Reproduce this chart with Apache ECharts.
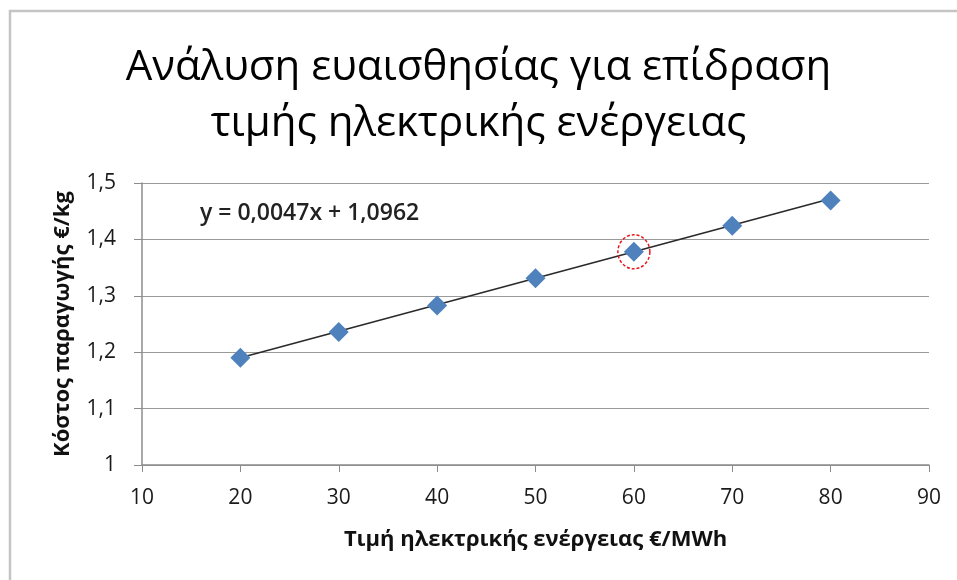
<!DOCTYPE html>
<html>
<head>
<meta charset="utf-8">
<script src="https://cdn.jsdelivr.net/npm/echarts@6/dist/echarts.min.js"></script>
<style>
  html, body { margin: 0; padding: 0; background: #fff; }
  #chart { width: 957px; height: 580px; }
</style>
</head>
<body>
<div id="chart"></div>
<script>
// Electricity price (€/MWh) against production cost (€/kg)
const prices = [20, 30, 40, 50, 60, 70, 80];
const costs = [1.190, 1.236, 1.283, 1.331, 1.378, 1.424, 1.469];

// Linear trend line coefficients, as printed in the equation label
const slope = 0.0047;
const intercept = 1.0962;
const trendRange = [20, 80];

const highlightPrice = 60;

const xTicks = [10, 20, 30, 40, 50, 60, 70, 80, 90];
const yTicks = [1, 1.1, 1.2, 1.3, 1.4, 1.5];

const titleText = 'Ανάλυση ευαισθησίας για επίδραση\nτιμής ηλεκτρικής ενέργειας';
const xName = 'Τιμή ηλεκτρικής ενέργειας €/MWh';
const yName = 'Κόστος παραγωγής €/kg';
const equationText = 'y = 0,0047x + 1,0962';

const font = 'Open Sans';
const fmt = v => String(v).replace('.', ',');

const points = prices.map((p, i) => [p, costs[i]]);
const trendLine = trendRange.map(x => [x, slope * x + intercept]);
const hi = prices.indexOf(highlightPrice);

const chart = echarts.init(document.getElementById('chart'), null, { renderer: 'canvas' });
chart.setOption({
  backgroundColor: '#fff',
  animation: false,
  title: {
    text: titleText,
    left: 'center',
    top: 35,
    textStyle: {
      fontFamily: font,
      fontSize: 42,
      fontWeight: 'normal',
      color: '#000',
      lineHeight: 56
    }
  },
  grid: { left: 142, right: 28, top: 183, bottom: 115, containLabel: false },
  xAxis: {
    type: 'value',
    min: xTicks[0],
    max: xTicks[xTicks.length - 1],
    interval: 10,
    name: xName,
    nameLocation: 'middle',
    nameGap: 64,
    nameTextStyle: { fontFamily: font, fontSize: 22, fontWeight: 'bold', color: '#111' },
    axisLine: { lineStyle: { color: '#8c8c8c', width: 1.5 } },
    axisTick: { show: true, length: 7, lineStyle: { color: '#8c8c8c' } },
    axisLabel: { fontFamily: font, fontSize: 21, color: '#1a1a1a', margin: 23 },
    splitLine: { show: false }
  },
  yAxis: {
    type: 'value',
    min: yTicks[0],
    max: yTicks[yTicks.length - 1],
    interval: 0.1,
    name: yName,
    nameLocation: 'middle',
    nameGap: 68,
    nameTextStyle: { fontFamily: font, fontSize: 22, fontWeight: 'bold', color: '#111' },
    axisLine: { show: true, lineStyle: { color: '#8c8c8c', width: 1.5 } },
    axisTick: { show: true, length: 8, lineStyle: { color: '#8c8c8c' } },
    axisLabel: { fontFamily: font, fontSize: 21, color: '#1a1a1a', margin: 26, formatter: v => fmt(Math.round(v * 10) / 10) },
    splitLine: { show: true, lineStyle: { color: '#9a9a9a', width: 1.2 } }
  },
  series: [
    {
      type: 'line',
      data: trendLine,
      showSymbol: false,
      symbol: 'none',
      lineStyle: { color: '#2a2a2a', width: 1.6 },
      z: 2
    },
    {
      type: 'scatter',
      data: points,
      symbol: 'diamond',
      symbolSize: 20,
      itemStyle: { color: '#4f81bd', opacity: 1 },
      z: 3,
      markPoint: {
        symbol: 'circle',
        symbolSize: [32, 34],
        silent: true,
        label: { show: false },
        itemStyle: { color: 'rgba(0,0,0,0)', borderColor: '#e8161b', borderWidth: 1.5, borderType: [3, 2] },
        data: [{ coord: points[hi] }]
      }
    }
  ],
  graphic: [
    {
      type: 'polyline',
      shape: { points: [[10, 580], [10, 11], [957, 11]] },
      style: { stroke: '#c4c4c4', lineWidth: 2.5, fill: null },
      silent: true
    },
    {
      type: 'text',
      left: 200,
      top: 202,
      style: {
        text: equationText,
        fontFamily: font,
        fontSize: 23,
        fontWeight: '600',
        fill: '#222'
      }
    }
  ]
});
</script>
</body>
</html>
